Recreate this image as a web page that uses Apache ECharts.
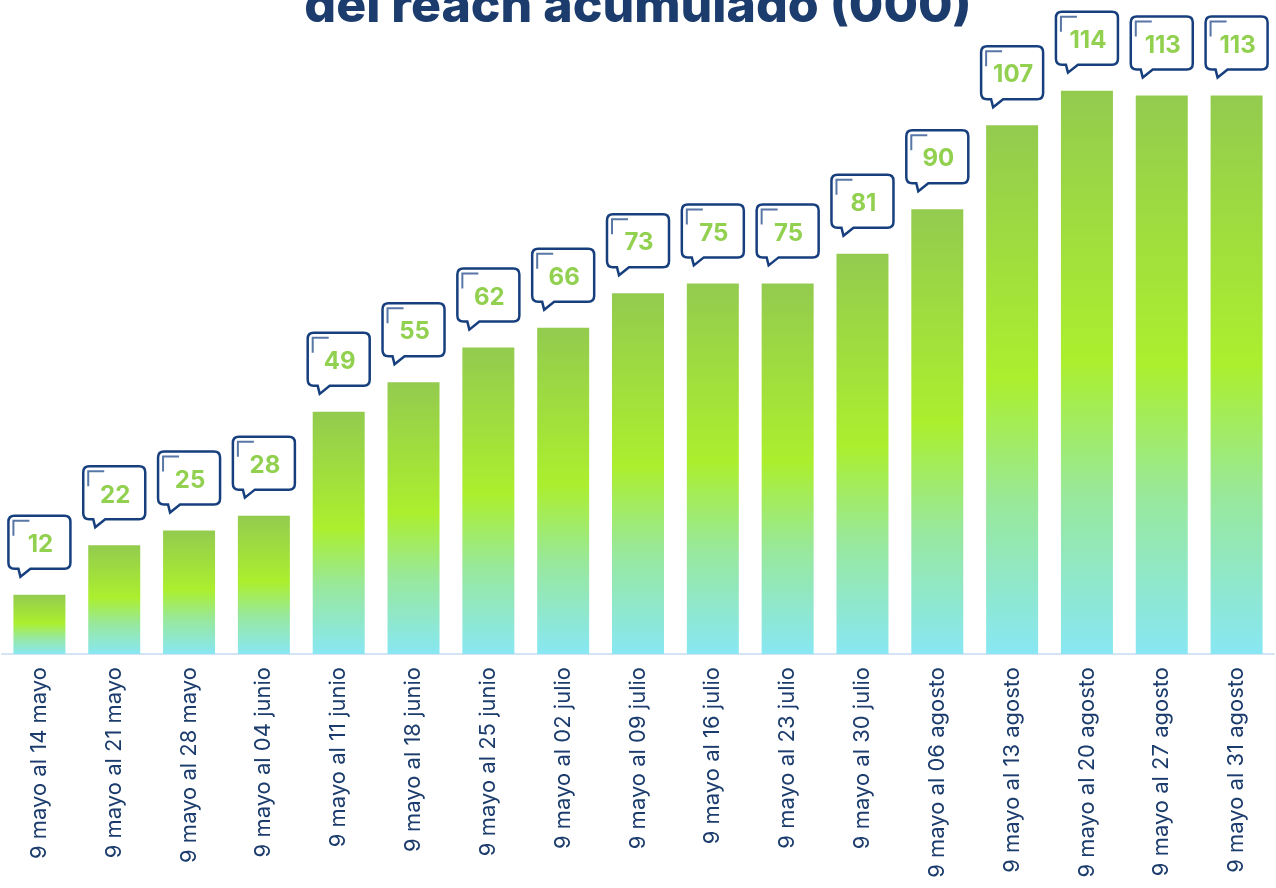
<!DOCTYPE html>
<html>
<head>
<meta charset="utf-8">
<script src="https://cdn.jsdelivr.net/npm/echarts@6/dist/echarts.min.js"></script>
<style>
  html, body { margin: 0; padding: 0; background: #ffffff; }
  #chart { width: 1276px; height: 888px; }
</style>
</head>
<body>
<div id="chart"></div>
<script>
// semanas (acumulado desde el 9 de mayo)
const weeks = [
  '9 mayo al 14 mayo', '9 mayo al 21 mayo', '9 mayo al 28 mayo', '9 mayo al 04 junio',
  '9 mayo al 11 junio', '9 mayo al 18 junio', '9 mayo al 25 junio', '9 mayo al 02 julio',
  '9 mayo al 09 julio', '9 mayo al 16 julio', '9 mayo al 23 julio', '9 mayo al 30 julio',
  '9 mayo al 06 agosto', '9 mayo al 13 agosto', '9 mayo al 20 agosto', '9 mayo al 27 agosto',
  '9 mayo al 31 agosto'
];
// reach acumulado (000)
const reach = [12, 22, 25, 28, 49, 55, 62, 66, 73, 75, 75, 81, 90, 107, 114, 113, 113];

const navy = '#1b3c6c';
const green = '#92d050';

const chart = echarts.init(document.getElementById('chart'));

// burbuja de dialogo encima de cada barra
function bubble(params, api) {
  const p = api.coord([api.value(0), api.value(1)]);
  const w = 62, h = 53, gap = 26;
  const x0 = p[0] - w / 2;
  const y0 = p[1] - gap - h;
  const d = 'M6,0 L56,0 Q62,0 62,6 L62,47 Q62,53 56,53 L22,53 L12,61 L10,53 L6,53 Q0,53 0,47 L0,6 Q0,0 6,0 Z';
  return {
    type: 'group',
    x: x0,
    y: y0,
    children: [
      { type: 'path', shape: { pathData: d }, style: { fill: '#ffffff', stroke: '#173f7e', lineWidth: 2.5 } },
      { type: 'polyline', shape: { points: [[5, 20], [5, 5], [21, 5]] }, style: { stroke: '#5877a6', lineWidth: 2, fill: null } },
      { type: 'text', style: { text: String(api.value(1)), x: 32, y: 29, align: 'center', verticalAlign: 'middle',
        font: '700 24px Inter', fill: green } }
    ]
  };
}

chart.setOption({
  animation: false,
  graphic: [{
    type: 'text',
    left: 'center',
    top: -18,
    style: { text: 'del reach acumulado (000)', font: '800 50px Inter', fill: navy }
  }],
  grid: { left: 2, right: 2, top: 61, bottom: 234 },
  xAxis: {
    type: 'category',
    data: weeks,
    axisTick: { show: false },
    axisLine: { lineStyle: { color: '#d3e4f4', width: 2 } },
    axisLabel: { rotate: 90, interval: 0, margin: 13, color: navy, fontSize: 22, fontFamily: 'Inter' }
  },
  yAxis: { type: 'value', min: 0, max: 120, show: false },
  series: [
    {
      type: 'bar',
      data: reach,
      barWidth: 52,
      itemStyle: {
        color: new echarts.graphic.LinearGradient(0, 0, 0, 1, [
          { offset: 0, color: '#93cb4f' },
          { offset: 0.48, color: '#abef2e' },
          { offset: 0.72, color: '#98e89c' },
          { offset: 1, color: '#88e7f3' }
        ])
      }
    },
    {
      type: 'custom',
      clip: false,
      z: 5,
      data: reach.map((v, i) => [i, v]),
      encode: { x: 0, y: 1 },
      renderItem: bubble
    }
  ]
});
</script>
</body>
</html>
